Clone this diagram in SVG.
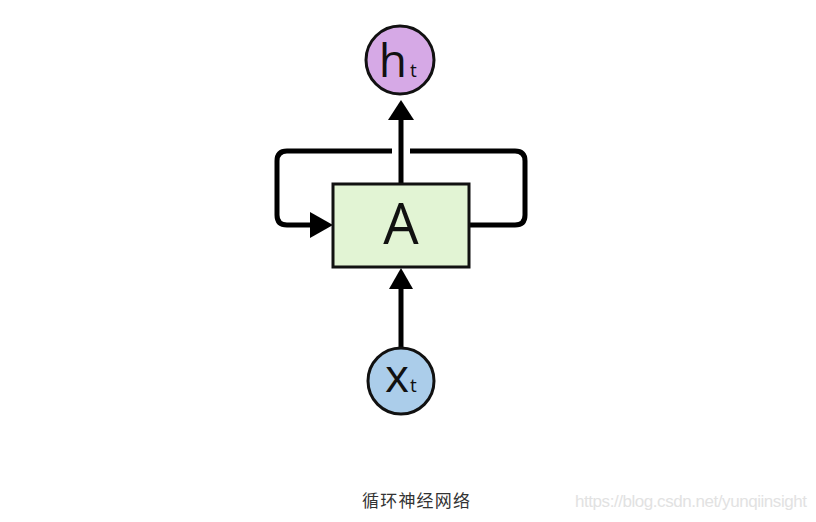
<svg xmlns="http://www.w3.org/2000/svg" width="816" height="522" viewBox="0 0 816 522">
<style>
.node{stroke:#111;stroke-width:3}
.lbl{font-family:"Open Sans","DejaVu Sans",sans-serif;fill:#111}
.conn{fill:none;stroke:#000;stroke-width:5;stroke-linecap:butt;stroke-linejoin:round}
.head{fill:#000}
</style>
<rect width="816" height="522" fill="#fff"/>
<g id="connectors">
  <line class="conn" x1="401" y1="184" x2="401" y2="118"/>
  <polygon class="head" points="401,100 414,120 388,120"/>
  <line class="conn" x1="401" y1="348" x2="401" y2="287"/>
  <polygon class="head" points="401,268 413,289 389,289"/>
  <path class="conn" d="M469,225 H515 Q525,225 525,215 V161 Q525,151 515,151 H410"/>
  <path class="conn" d="M392,151 H287 Q277,151 277,161 V215 Q277,225 287,225 H312"/>
  <polygon class="head" points="333,225 310,212 310,238"/>
</g>
<g id="node-h">
  <circle class="node" cx="400" cy="60" r="34" fill="#d6a9e6"/>
  <text class="lbl" x="407" y="77" font-size="46" text-anchor="end">h</text>
  <text class="lbl" x="410" y="77" font-size="19">t</text>
</g>
<g id="node-A">
  <rect class="node" x="333" y="184" width="136" height="83" fill="#e2f4d4" stroke-width="2"/>
  <text class="lbl" x="401" y="244" font-size="56" text-anchor="middle">A</text>
</g>
<g id="node-x">
  <circle class="node" cx="401" cy="381" r="33" fill="#abcdea"/>
  <text class="lbl" x="397" y="392" font-size="46" text-anchor="middle">x</text>
  <text class="lbl" x="410" y="392" font-size="19">t</text>
</g>
<text x="362" y="507" font-size="17" font-family="'Noto Sans CJK SC',sans-serif" fill="#333" textLength="108">循环神经网络</text>
<text x="575" y="507" font-size="17" font-family="'Liberation Sans',Arial,sans-serif" fill="#e2e2e2" textLength="232">https://blog.csdn.net/yunqiinsight</text>
</svg>
